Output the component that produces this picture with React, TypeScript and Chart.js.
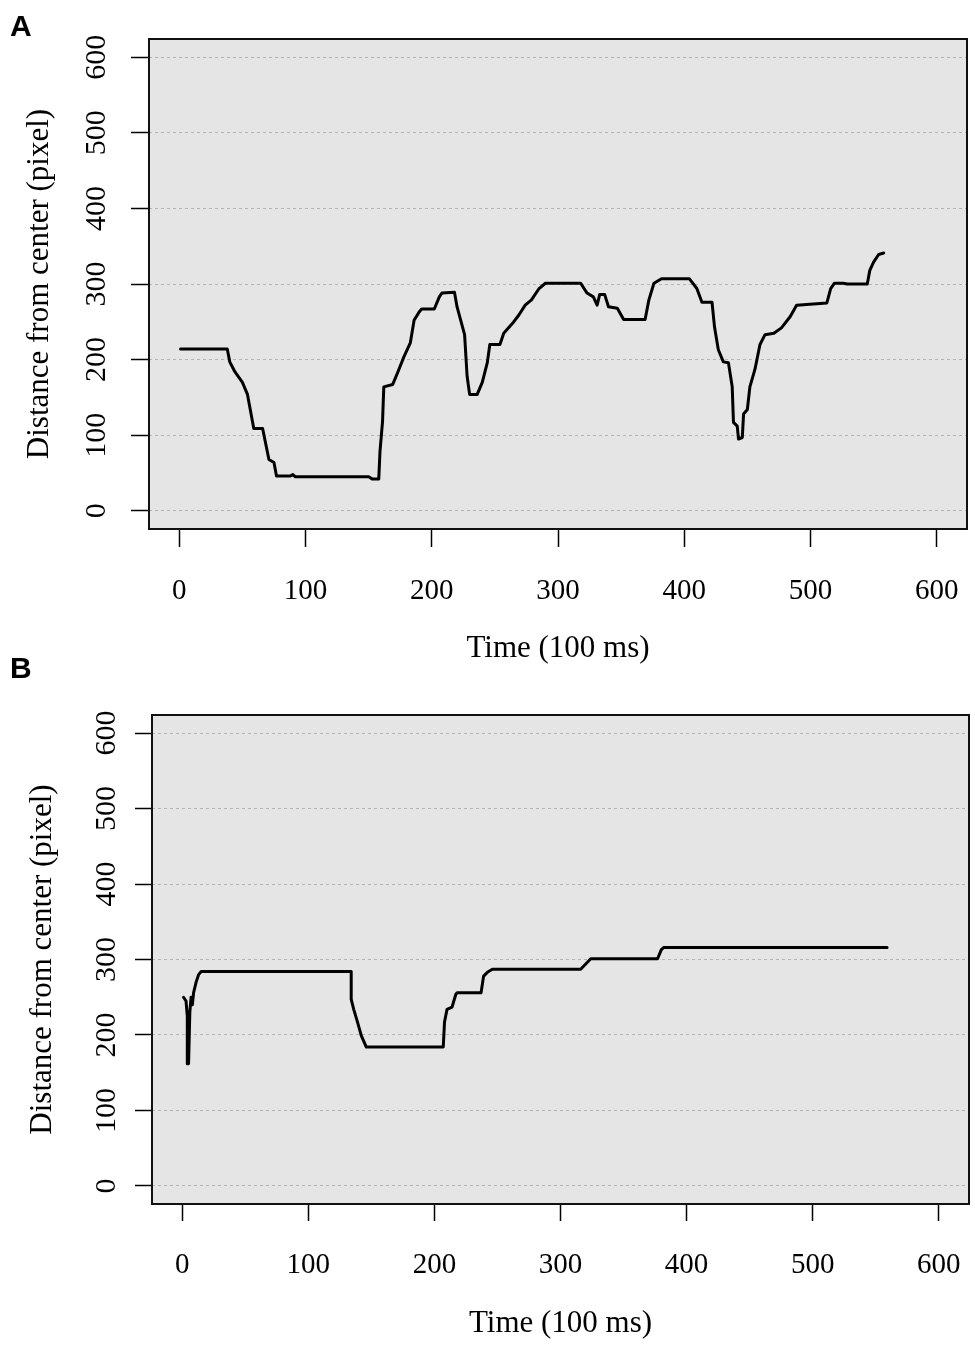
import React, { useEffect, useRef } from 'react'
import { Chart, registerables } from 'chart.js'
import type { Plugin } from 'chart.js'

Chart.register(...registerables)

const W = 975
const H = 673

// ticks shared by both axes of both panels
const TICKS = [0, 100, 200, 300, 400, 500, 600]
const AXIS_MIN = -24
const AXIS_MAX = 624

const X_TITLE = 'Time (100 ms)'
const Y_TITLE = 'Distance from center (pixel)'

// panel A
const A_TIME = [
  1, 38, 40, 44, 50, 54, 59, 66, 71, 75, 77, 88, 90, 92, 150, 153, 158, 159, 161, 162,
  169, 173, 178, 183, 186, 190, 192, 202, 206, 208, 218, 220, 226, 228, 230, 236, 240, 244, 246, 254,
  257, 264, 269, 274, 279, 285, 290, 318, 323, 328, 331, 333, 337, 340, 347, 352, 369, 372, 376, 382,
  404, 410, 414, 422, 424, 427, 431, 435, 438, 439, 442, 443, 446, 447, 450, 452, 456, 460, 464, 471,
  477, 484, 489, 513, 516, 519, 526, 529, 545, 547, 550, 554, 558,
]
const A_DIST = [
  214, 214, 197, 184, 170, 154, 109, 109, 68, 64, 46, 46, 48, 45, 45, 42, 42, 79, 118, 164,
  167, 183, 204, 222, 252, 263, 267, 267, 283, 288, 289, 270, 233, 178, 154, 154, 170, 196, 220, 220,
  235, 248, 259, 272, 279, 294, 301, 301, 288, 283, 272, 286, 286, 270, 268, 253, 253, 279, 301, 307,
  307, 294, 276, 276, 243, 213, 197, 196, 164, 117, 112, 95, 97, 128, 134, 164, 187, 220, 233, 235,
  242, 257, 272, 275, 294, 301, 301, 300, 300, 318, 329, 339, 341,
]

// panel B
const B_TIME = [
  1, 3, 4, 4, 5, 6, 7, 8, 9, 11, 13, 15, 134, 134, 136, 139, 142, 146, 207, 208,
  210, 214, 217, 218, 237, 239, 242, 246, 316, 324, 377, 380, 382, 559,
]
const B_DIST = [
  250, 245, 225, 162, 162, 230, 250, 240, 256, 270, 280, 284, 284, 247, 234, 217, 199, 184, 184, 217,
  234, 237, 254, 256, 256, 278, 283, 287, 287, 301, 301, 313, 316, 316,
]

const SERIF = '"Liberation Serif", "Times New Roman", serif'

type Frame = {
  left: number
  right: number
  top: number
  bottom: number
  tickLen: number
  yPad: number
  yTitlePad: number
  xPad: number
  xTitlePad: number
}

const FRAME_A: Frame = { left: 149, right: 967, top: 39, bottom: 529, tickLen: 18, yPad: 11, yTitlePad: 21, xPad: 27, xTitlePad: 6 }
const FRAME_B: Frame = { left: 152, right: 969, top: 42, bottom: 531, tickLen: 17, yPad: 5, yTitlePad: 24, xPad: 27, xTitlePad: 4 }

// grey plot region plus the black frame round it
const plotBox: Plugin<'line'> = {
  id: 'plotBox',
  beforeDraw(chart) {
    const { ctx, chartArea: a } = chart
    ctx.save()
    ctx.fillStyle = '#e5e5e5'
    ctx.fillRect(a.left, a.top, a.right - a.left, a.bottom - a.top)
    ctx.restore()
  },
  afterDraw(chart) {
    const { ctx, chartArea: a } = chart
    ctx.save()
    ctx.strokeStyle = '#111'
    ctx.lineWidth = 2
    ctx.strokeRect(a.left, a.top, a.right - a.left, a.bottom - a.top)
    ctx.restore()
  },
}

const Panel: React.FC<{ times: number[]; dists: number[]; frame: Frame; top: number }> = ({ times, dists, frame, top }) => {
  const ref = useRef<HTMLCanvasElement | null>(null)

  useEffect(() => {
    if (!ref.current) return
    const f = frame
    const setTicks = (s: any) => {
      s.ticks = TICKS.map((value) => ({ value }))
    }
    const chart = new Chart(ref.current, {
      type: 'line',
      data: {
        datasets: [
          {
            data: times.map((t, i) => ({ x: t, y: dists[i] })),
            borderColor: '#000',
            borderWidth: 3,
            pointRadius: 0,
            tension: 0,
            fill: false,
            borderJoinStyle: 'round',
            borderCapStyle: 'round',
          },
        ],
      },
      options: {
        animation: false,
        responsive: false,
        events: [],
        layout: { padding: { left: 0, top: f.top, right: W - f.right, bottom: 0 } },
        plugins: { legend: { display: false }, tooltip: { enabled: false } },
        scales: {
          x: {
            type: 'linear',
            position: 'bottom',
            min: AXIS_MIN,
            max: AXIS_MAX,
            afterBuildTicks: setTicks,
            afterFit: (s: any) => {
              s.height = H - f.bottom
              // labels sit well inside the range, no extra side room wanted
              s.paddingLeft = 0
              s.paddingRight = 0
            },
            grid: { drawOnChartArea: false, drawTicks: true, tickLength: f.tickLen, tickColor: '#000', tickWidth: 1.5 },
            border: { display: false },
            ticks: { autoSkip: false, maxRotation: 0, padding: f.xPad, color: '#000', font: { family: SERIF, size: 29 } },
            title: { display: true, text: X_TITLE, color: '#000', font: { family: SERIF, size: 31 }, padding: { top: 0, bottom: f.xTitlePad } },
          },
          y: {
            type: 'linear',
            position: 'left',
            min: AXIS_MIN,
            max: AXIS_MAX,
            afterBuildTicks: setTicks,
            afterFit: (s: any) => {
              s.width = f.left
              s.paddingTop = 0
              s.paddingBottom = 0
            },
            grid: { color: '#b4b4b4', lineWidth: 1, drawTicks: true, tickLength: f.tickLen, tickColor: '#000', tickWidth: 1.5 },
            border: { display: false, dash: [3, 3] },
            ticks: {
              autoSkip: false,
              minRotation: 90,
              maxRotation: 90,
              crossAlign: 'center',
              padding: f.yPad,
              color: '#000',
              font: { family: SERIF, size: 30 },
            },
            title: { display: true, text: Y_TITLE, color: '#000', font: { family: SERIF, size: 31 }, padding: { top: f.yTitlePad, bottom: 0 } },
          },
        },
      },
      plugins: [plotBox],
    })
    return () => chart.destroy()
  }, [times, dists, frame])

  return (
    <canvas
      ref={ref}
      width={W}
      height={H}
      style={{ position: 'absolute', left: 0, top, width: W, height: H, display: 'block' }}
    />
  )
}

const letterStyle: React.CSSProperties = {
  position: 'absolute',
  left: 10,
  font: 'bold 30px "Liberation Sans", Arial, sans-serif',
  lineHeight: 1,
  color: '#000',
}

export default function App() {
  return (
    <div style={{ position: 'absolute', left: 0, top: 0, width: W, height: 2 * H, background: '#fff', overflow: 'hidden' }}>
      <Panel times={A_TIME} dists={A_DIST} frame={FRAME_A} top={0} />
      <Panel times={B_TIME} dists={B_DIST} frame={FRAME_B} top={H} />
      <div style={{ ...letterStyle, top: 11 }}>A</div>
      <div style={{ ...letterStyle, top: 653 }}>B</div>
    </div>
  )
}
